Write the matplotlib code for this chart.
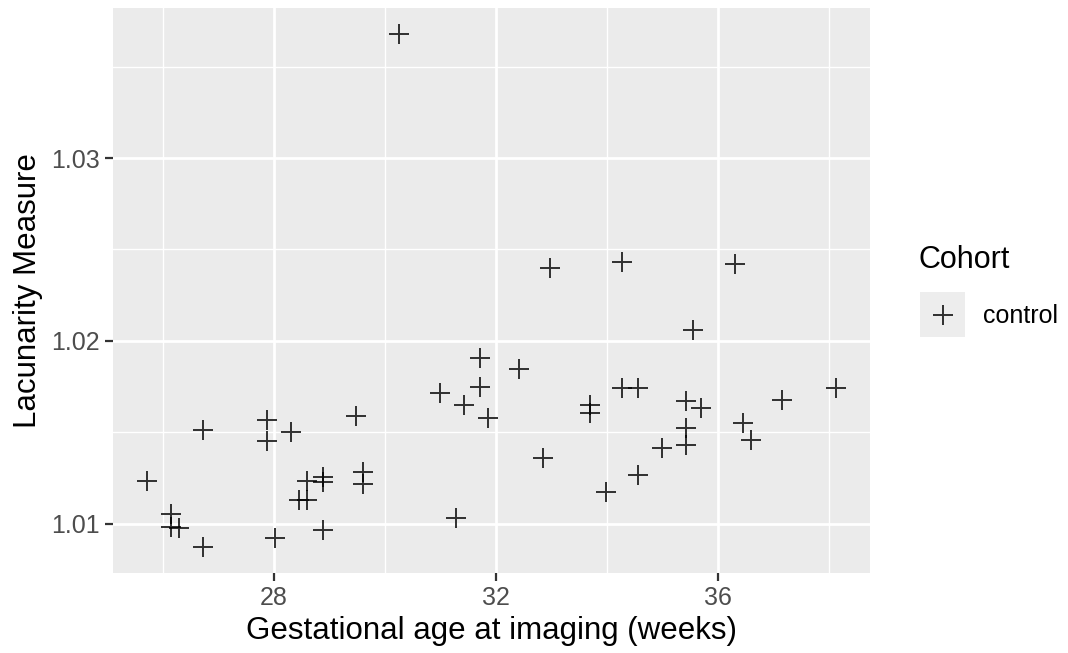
import matplotlib
matplotlib.use("Agg")
import matplotlib.pyplot as plt
import numpy as np

plt.rcParams['font.family'] = ['Liberation Sans', 'DejaVu Sans']

# Data (gestational age in weeks, lacunarity)
gest_age = [25.72, 26.15, 26.15, 26.29, 26.73, 26.73, 27.88, 27.88, 28.30, 28.02,
            28.45, 28.59, 28.59, 28.88, 28.88, 28.88, 29.47, 29.60, 29.60, 30.26,
            30.99, 31.28, 31.42, 31.71, 31.71, 31.85, 32.42, 32.84, 32.97, 33.70,
            33.70, 33.99, 34.27, 34.27, 34.56, 34.56, 34.99, 35.42, 35.42, 35.42,
            35.55, 35.70, 36.30, 36.45, 36.59, 37.15, 38.12]
lacunarity = [1.01234, 1.01054, 1.00984, 1.00978, 1.00871, 1.01513, 1.01568, 1.01450, 1.01504, 1.00921,
              1.01131, 1.01131, 1.01234, 1.01255, 1.01230, 1.00966, 1.01590, 1.01281, 1.01218, 1.03680,
              1.01716, 1.01033, 1.01648, 1.01905, 1.01749, 1.01578, 1.01848, 1.01359, 1.02400, 1.01651,
              1.01606, 1.01172, 1.02432, 1.01740, 1.01740, 1.01266, 1.01413, 1.01673, 1.01524, 1.01430,
              1.02059, 1.01631, 1.02423, 1.01552, 1.01459, 1.01677, 1.01742]
cohort_label = "control"
x_ticks = [28, 32, 36]
y_ticks = [1.01, 1.02, 1.03]

W, H = 1068, 653
fig = plt.figure(figsize=(W / 100, H / 100), dpi=100)
fig.patch.set_facecolor('white')

pl, pr, pt, pb = 113, 870, 8, 573
ax = fig.add_axes([pl / W, 1 - pb / H, (pr - pl) / W, (pb - pt) / H])
ax.set_facecolor('#EBEBEB')
for s in ax.spines.values():
    s.set_visible(False)

x = np.array(gest_age)
y = np.array(lacunarity)
xr = x.max() - x.min()
yr = y.max() - y.min()
ax.set_xlim(x.min() - 0.05 * xr, x.max() + 0.05 * xr)
ax.set_ylim(y.min() - 0.05 * yr, y.max() + 0.05 * yr)

ax.set_xticks(x_ticks)
ax.set_yticks(y_ticks)
ax.set_xticklabels([str(t) for t in x_ticks])
ax.set_yticklabels([f"{t:.2f}" for t in y_ticks])
ax.set_xticks([26, 30, 34, 38], minor=True)
ax.set_yticks([1.015, 1.025, 1.035], minor=True)

ax.grid(which='major', color='white', linewidth=2.0)
ax.grid(which='minor', color='white', linewidth=1.0)
ax.set_axisbelow(True)

ax.tick_params(which='major', length=5.5, width=1.6, color='#333333',
               labelsize=18, labelcolor='#4D4D4D', pad=4)
ax.tick_params(which='minor', length=0)

ax.plot(x, y, linestyle='none', marker='+', markersize=14, markeredgewidth=1.4,
        color='black', alpha=0.8)

ax.set_xlabel('Gestational age at imaging (weeks)', fontsize=22.5, color='black', labelpad=4)
ax.set_ylabel('Lacunarity Measure', fontsize=22.5, color='black', labelpad=6)

# Legend
fig.text(918 / W, 1 - 260 / H, 'Cohort', fontsize=22, color='black', va='center', ha='left')
kx, ky, ks = 920, 292, 45
kax = fig.add_axes([kx / W, 1 - (ky + ks) / H, ks / W, ks / H])
kax.set_facecolor('#EDEDED')
for s in kax.spines.values():
    s.set_visible(False)
kax.set_xticks([])
kax.set_yticks([])
kax.set_xlim(0, 1)
kax.set_ylim(0, 1)
kax.plot([0.5], [0.5], linestyle='none', marker='+', markersize=14, markeredgewidth=1.4,
         color='black', alpha=0.8)
fig.text(983 / W, 1 - 316 / H, cohort_label, fontsize=18, color='black', va='center', ha='left')

fig.savefig('out.png', dpi=100)
